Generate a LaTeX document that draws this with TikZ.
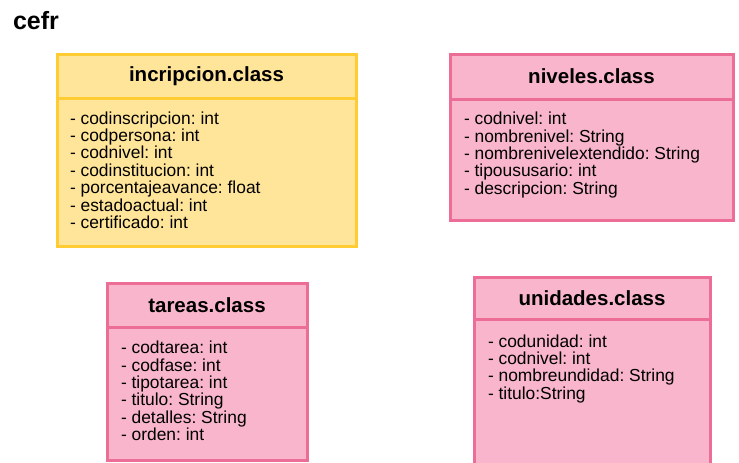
\documentclass[tikz,border=0pt]{standalone}
\usepackage{fontspec}
\setmainfont{Liberation Sans}
\usepackage{tikz}
\usetikzlibrary{positioning}
\frenchspacing
\definecolor{yelfill}{HTML}{FFE599}
\definecolor{yeldraw}{HTML}{FFCC33}
\definecolor{pinkfill}{HTML}{F8B5CB}
\definecolor{pinkdraw}{HTML}{EC6E97}
\tikzstyle{every node}=[inner sep=0pt,outer sep=0pt]
\tikzstyle{classhead}=[draw,line width=3pt,anchor=north west,font=\fontsize{20.5}{22}\selectfont\bfseries]
\tikzstyle{classbody}=[draw,line width=3pt]
\tikzstyle{attrs}=[align=left,font=\fontsize{17.4}{17.4}\selectfont]
\tikzstyle{yel}=[fill=yelfill,draw=yeldraw]
\tikzstyle{pnk}=[fill=pinkfill,draw=pinkdraw]

\begin{document}
\begin{tikzpicture}[x=1pt,y=-1pt]
  \useasboundingbox (0,0) rectangle (739,463);
  \clip (0,0) rectangle (739,463);
  \node[anchor=base west,font=\fontsize{25}{26}\selectfont\bfseries] (title) at (13,29.5) {cefr};

  % incripcion
  \node[classhead,yel,minimum width=299pt,minimum height=44pt] (inscH) at (57,54) {incripcion.class};
  \node[classbody,yel,minimum width=299pt,minimum height=148pt,below=0pt of inscH.south west,anchor=north west] (inscB) {};
  \node[attrs,below right=13.5pt and 13pt of inscB.north west] (inscA)
  {- codinscripcion: int\\- codpersona: int\\- codnivel: int\\- codinstitucion: int\\
   - porcentajeavance: float\\- estadoactual: int\\- certificado: int};

  % niveles
  \node[classhead,pnk,minimum width=283pt,minimum height=45pt] (nivH) at (450,54) {niveles.class};
  \node[classbody,pnk,minimum width=283pt,minimum height=121pt,below=0pt of nivH.south west,anchor=north west] (nivB) {};
  \node[attrs,below right=13pt and 14pt of nivB.north west] (nivA)
  {- codnivel: int\\- nombrenivel: String\\- nombrenivelextendido: String\\
   - tipoususario: int\\- descripcion: String};

  % tareas
  \node[classhead,pnk,minimum width=200pt,minimum height=44pt] (tarH) at (107,283) {tareas.class};
  \node[classbody,pnk,minimum width=200pt,minimum height=133pt,below=0pt of tarH.south west,anchor=north west] (tarB) {};
  \node[attrs,below right=14pt and 14pt of tarB.north west] (tarA)
  {- codtarea: int\\- codfase: int\\- tipotarea: int\\- titulo: String\\
   - detalles: String\\- orden: int};

  % unidades
  \node[classhead,pnk,minimum width=236pt,minimum height=42pt] (uniH) at (474,277) {unidades.class};
  \node[classbody,pnk,minimum width=236pt,minimum height=170pt,below=0pt of uniH.south west,anchor=north west] (uniB) {};
  \node[attrs,below right=15.5pt and 14pt of uniB.north west] (uniA)
  {- codunidad: int\\- codnivel: int\\- nombreundidad: String\\- titulo:String};
\end{tikzpicture}
\end{document}
